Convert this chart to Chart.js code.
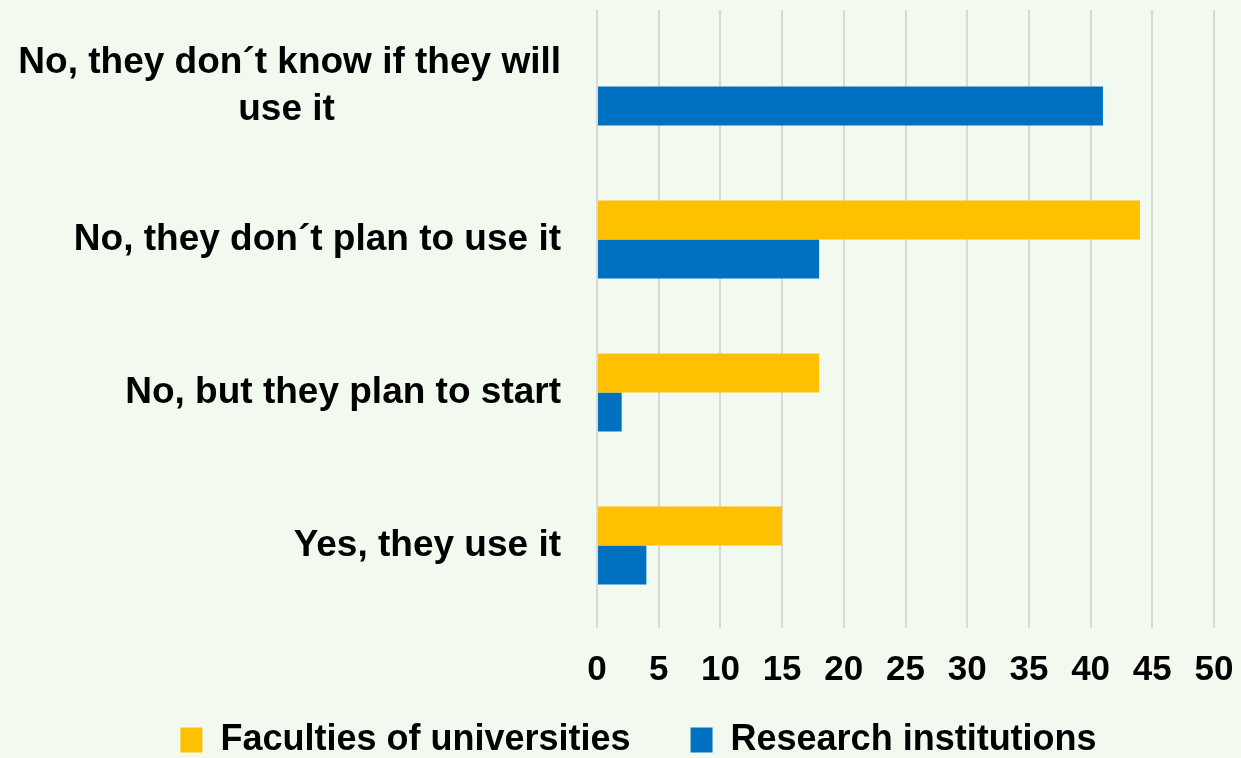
<!DOCTYPE html>
<html><head><meta charset="utf-8">
<script src="https://cdn.jsdelivr.net/npm/chart.js@4.4.1/dist/chart.umd.min.js"></script>
<style>html,body{margin:0;padding:0;background:#F2FAF0;overflow:hidden}#wrap{width:1241px;height:758px;position:relative}</style>
</head><body><div id="wrap"><canvas id="c"></canvas></div>
<script>
const categories = [["No, they don´t know if they will", "use it"], "No, they don´t plan to use it", "No, but they plan to start", "Yes, they use it"];
const seriesNames = ["Faculties of universities", "Research institutions"];
const faculties = [0, 44, 18, 15];
const research = [41, 18, 2, 4];
const xMin = 0, xMax = 50, xStep = 5;

const FAMILY = '"Liberation Sans", Arial, sans-serif';
const yFont = {family: FAMILY, size: 37, weight: 'bold', lineHeight: 1.27};
const mctx = document.createElement('canvas').getContext('2d');
mctx.font = 'bold 37px ' + FAMILY;
function centerLines(lines) {
  if (!Array.isArray(lines)) return lines;
  const widths = lines.map(l => mctx.measureText(l).width);
  const maxW = Math.max(...widths);
  const sp = mctx.measureText(' ').width;
  return lines.map((l, i) => l + ' '.repeat(Math.round((maxW - widths[i]) / 2 / sp)));
}

Chart.defaults.font.family = FAMILY;
Chart.defaults.color = '#000';

const noLabelClip = {
  id: 'noLabelClip',
  beforeDraw(chart) { chart.scales.y._computeLabelArea = () => undefined; }
};

new Chart(document.getElementById('c'), {
  type: 'bar',
  data: {
    labels: categories,
    datasets: [
      {label: seriesNames[0], data: faculties, backgroundColor: '#FFC000', borderWidth: 0},
      {label: seriesNames[1], data: research, backgroundColor: '#0070C0', borderWidth: 0}
    ]
  },
  plugins: [noLabelClip],
  options: {
    indexAxis: 'y',
    responsive: true,
    maintainAspectRatio: false,
    animation: false,
    barPercentage: 1,
    categoryPercentage: 0.51,
    layout: {padding: {left: 63, right: 27, top: 10, bottom: -10}},
    scales: {
      x: {
        min: xMin, max: xMax,
        ticks: {stepSize: xStep, font: {size: 35, weight: 'bold'}, padding: 21, color: '#000'},
        grid: {color: '#D9D9D9', lineWidth: 2, drawTicks: true, tickLength: 6},
        border: {display: false},
        afterFit: s => { s.height = 90; s.paddingLeft = 0; s.paddingRight = 0; }
      },
      y: {
        ticks: {font: yFont, padding: 36, color: '#000',
          callback: function(v) { return centerLines(this.getLabelForValue(v)); }},
        grid: {display: false, drawTicks: false},
        border: {display: false},
        afterFit: s => { s.width = 597 - 63; s.paddingTop = 0; s.paddingBottom = 0; }
      }
    },
    plugins: {
      tooltip: {enabled: false},
      legend: {
        position: 'bottom',
        labels: {
          font: {size: 36, weight: 'bold'},
          color: '#000',
          boxWidth: 22, boxHeight: 25,
          padding: 10,
          generateLabels: chart => {
            const items = Chart.defaults.plugins.legend.labels.generateLabels(chart);
            items.forEach((it, i) => { it.lineWidth = 0; if (i < items.length - 1) it.text = it.text + '     '; });
            return items;
          }
        }
      }
    }
  }
});
</script></body></html>
